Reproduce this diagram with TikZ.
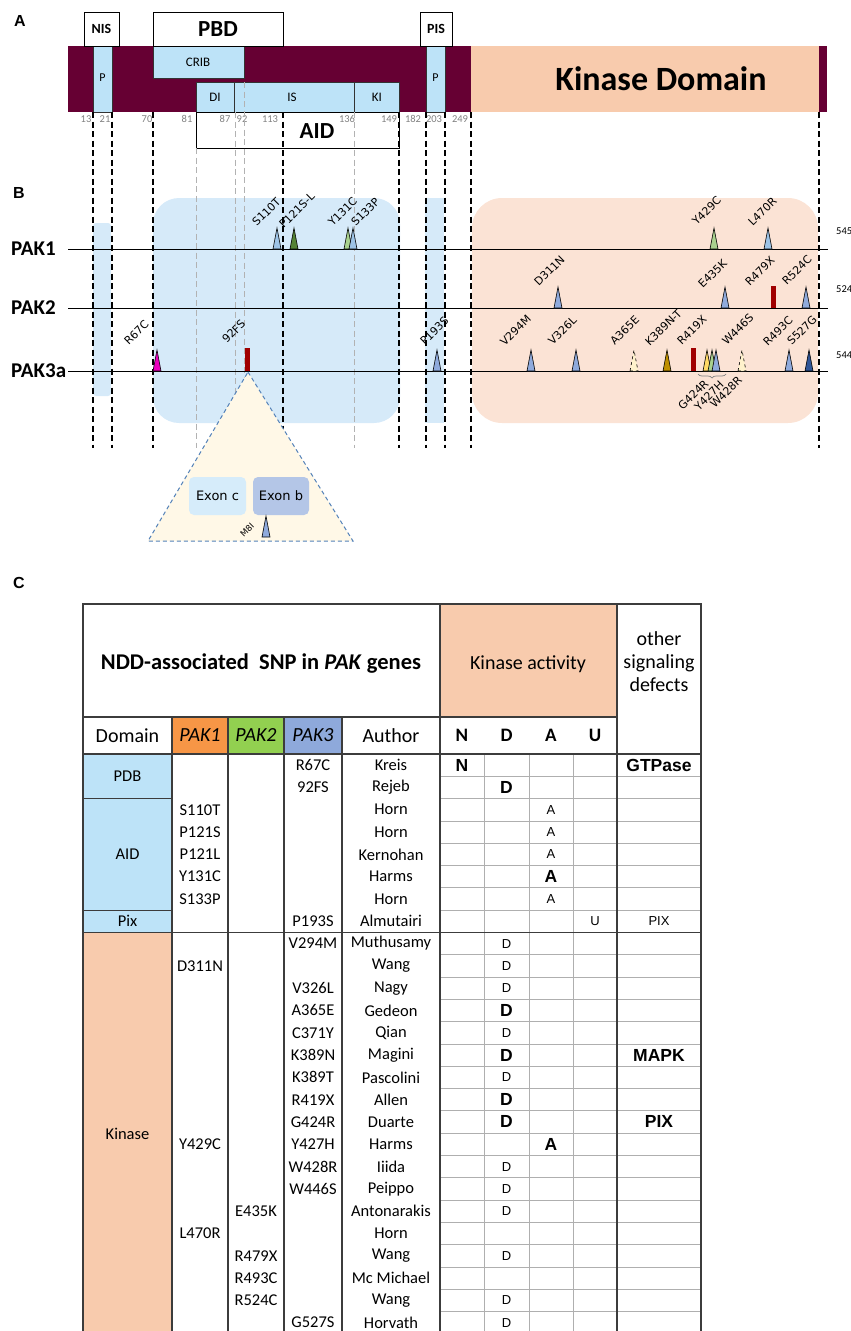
\documentclass[tikz,border=0pt]{standalone}
\usepackage{fontspec}
\setmainfont{Carlito}
\newfontfamily\djv{DejaVu Sans}
\newfontfamily\lib{Liberation Sans}
\usetikzlibrary{decorations.pathreplacing}
\newcommand\fsz[1]{\fontsize{#1}{#1}\selectfont}
\definecolor{maroonbar}{RGB}{102,0,51}
\definecolor{lblue}{RGB}{189,227,248}
\definecolor{peach}{RGB}{248,203,173}
\definecolor{bblue}{RGB}{214,234,249}
\definecolor{bpeach}{RGB}{251,227,213}
\definecolor{mlblue}{RGB}{157,195,230}
\definecolor{mblue}{RGB}{143,170,220}
\definecolor{mdgreen}{RGB}{84,130,53}
\definecolor{mlgreen}{RGB}{169,209,142}
\definecolor{mmag}{RGB}{235,0,190}
\definecolor{mgold}{RGB}{191,144,0}
\definecolor{myellow}{RGB}{255,217,102}
\definecolor{mdblue}{RGB}{47,85,151}
\definecolor{mpale}{RGB}{255,242,204}
\definecolor{mred}{RGB}{160,0,0}
\definecolor{tcream}{RGB}{255,248,231}
\definecolor{tedge}{RGB}{84,130,185}
\definecolor{exc}{RGB}{214,236,250}
\definecolor{exb}{RGB}{180,198,231}
\definecolor{orangeP}{RGB}{247,150,70}
\definecolor{greenP}{RGB}{146,208,80}
\definecolor{blueP}{RGB}{142,169,219}
\definecolor{numgray}{RGB}{128,128,128}
\definecolor{tline}{RGB}{60,60,60}
\definecolor{gline}{RGB}{175,175,175}
\tikzset{
  tri/.style={draw=black,line width=0.6pt},
  mutlab/.style={rotate=45,anchor=south west,inner sep=0.5pt,font=\djv\fsz{11}},
  bdash/.style={draw=black,line width=1.1pt,dash pattern=on 6pt off 3.5pt},
  gdash/.style={draw=gray!60,line width=0.8pt,dash pattern=on 6pt off 3.5pt},
  num/.style={text=numgray,font=\fsz{10.5},inner sep=0pt},
  box/.style={draw=black,line width=0.8pt},
  thinbox/.style={draw=black!80,line width=0.5pt},
  cell/.style={font=\fsz{16.5},inner sep=0pt},
  hcell/.style={font=\fsz{20},inner sep=0pt},
  nb/.style={font=\lib\bfseries\fsz{17.5},inner sep=0pt},
  nn/.style={font=\lib\fsz{13},inner sep=0pt},
  tl/.style={draw=tline,line width=1.1pt},
  gl/.style={draw=gline,line width=0.7pt},
  panel/.style={font=\lib\bfseries\fsz{16},inner sep=0pt}
}
\newcommand\mtri[3]{\draw[tri,fill=#3] (#1-4,#2) -- (#1,#2-21) -- (#1+4,#2) -- cycle;}
\newcommand\mtrid[2]{\draw[tri,dashed,fill=mpale] (#1-4,#2) -- (#1,#2-21) -- (#1+4,#2) -- cycle;}
\newcommand\mbar[3]{\fill[mred] (#1-2.5,#2) rectangle (#1+2.5,#2-#3);}
\newcommand\ry[1]{765.15+22.3*#1}
\begin{document}
\begin{tikzpicture}[x=1pt,y=-1pt]
\useasboundingbox (0,0) rectangle (851,1331);
\clip (0,0) rectangle (851,1331);
% ---------------- Panel A ----------------
\node[panel] (pA) at (20,21) {A};
\fill[maroonbar] (68,46) rectangle (827,112);
\fill[peach] (471,46) rectangle (819,112);
\node[font=\bfseries\fsz{34},inner sep=0pt] (kd) at (661,79) {Kinase Domain};
\draw[thinbox,fill=lblue] (93,46) rectangle (112,112);
\draw[thinbox,fill=lblue] (426,46) rectangle (445,112);
\node[font=\fsz{12},inner sep=0pt] (p1) at (102.5,78) {P};
\node[font=\fsz{12},inner sep=0pt] (p2) at (435.5,78) {P};
\draw[thinbox,fill=lblue] (153,46) rectangle (244,78);
\node[font=\fsz{13},inner sep=0pt] (crib) at (198,62) {CRIB};
\draw[thinbox,fill=lblue] (196,82) rectangle (399,112);
\draw[thinbox] (234,82) -- (234,112);
\draw[thinbox] (354,82) -- (354,112);
\node[font=\fsz{13},inner sep=0pt] (di) at (215,97) {DI};
\node[font=\fsz{13},inner sep=0pt] (is) at (292,97) {IS};
\node[font=\fsz{13},inner sep=0pt] (ki) at (377,97) {KI};
\draw[box,fill=white] (84,12) rectangle (119,46);
\node[font=\bfseries\fsz{14},inner sep=0pt] (nis) at (101.5,29) {NIS};
\draw[box,fill=white] (153,12) rectangle (283,46);
\node[font=\bfseries\fsz{23},inner sep=0pt] (pbd) at (218,29) {PBD};
\draw[box,fill=white] (420,12) rectangle (452,46);
\node[font=\bfseries\fsz{14},inner sep=0pt] (pis) at (436,29) {PIS};
\draw[box] (196,112) rectangle (399,148);
\node[font=\bfseries\fsz{23},inner sep=0pt] (aid) at (317,131) {AID};
\foreach \x/\t in {86/13,105/21,147/70,187/81,225/87,242/92,270/113,347/136,389/149,413/182,434/203,460/249}
  \node[num] (n\t) at (\x,119) {\t};
% ---------------- Panel B ----------------
\node[panel] (pB) at (19,193) {B};
\fill[bblue,rounded corners=26pt] (153,198) rectangle (400,423);
\fill[bblue,rounded corners=3pt] (93,223) rectangle (111,396);
\fill[bblue] (425,198) rectangle (444,423);
\fill[bpeach,rounded corners=30pt] (472,198) rectangle (818,423);
% dashed guide lines
\foreach \x in {93,112,153,283,399,426,445,471,819}
  \draw[bdash] (\x,112) -- (\x,448);
\draw[gdash] (196,148) -- (196,448);
\draw[gdash] (235,112) -- (235,448);
\draw[gdash] (244,82) -- (244,448);
\draw[gdash] (354,112) -- (354,448);
% PAK lines
\draw[line width=0.9pt] (68,249) -- (828,249);
\draw[line width=0.9pt] (68,308) -- (828,308);
\draw[line width=0.9pt] (68,371) -- (828,371);
\node[font=\bfseries\fsz{21},anchor=west,inner sep=0pt] (pak1) at (11,249) {PAK1};
\node[font=\bfseries\fsz{21},anchor=west,inner sep=0pt] (pak2) at (11,308) {PAK2};
\node[font=\bfseries\fsz{21},anchor=west,inner sep=0pt] (pak3) at (11,371) {PAK3a};
\node[font=\fsz{10.5},anchor=west,inner sep=0pt] (l545) at (836,231) {545};
\node[font=\fsz{10.5},anchor=west,inner sep=0pt] (l524) at (836,289) {524};
\node[font=\fsz{10.5},anchor=west,inner sep=0pt] (l544) at (836,355) {544};
% exon inset
\draw[draw=tedge,line width=1pt,dash pattern=on 4pt off 3pt,fill=tcream] (248,372) -- (353,541) -- (148,541) -- cycle;
\fill[exc,rounded corners=5pt] (189,477) rectangle (246,515);
\fill[exb,rounded corners=5pt] (253,477) rectangle (309,515);
\node[font=\djv\fsz{13},inner sep=0pt] (exc) at (217.5,496) {Exon c};
\node[font=\djv\fsz{13},inner sep=0pt] (exb) at (281,496) {Exon b};
\mtri{266}{537}{mblue}
\node[mutlab,font=\djv\fsz{8.5}] (m8i) at (244,539) {M8I};
% PAK1 mutations
\mtri{277}{249}{mlblue}
\mtri{294}{249}{mdgreen}
\mtri{348}{249}{mlgreen}
\mtri{353}{249}{mlblue}
\mtri{714}{249}{mlgreen}
\mtri{768}{249}{mlblue}
\node[mutlab] (s110t) at (257,228) {S110T};
\node[mutlab] (p121) at (284,230) {P121S-L};
\node[mutlab] (y131c) at (333,228) {Y131C};
\node[mutlab] (s133p) at (356,228) {S133P};
\node[mutlab] (y429c) at (697,227) {Y429C};
\node[mutlab] (l470r) at (753,228) {L470R};
% PAK2 mutations
\mtri{558}{308}{mblue}
\mtri{725}{308}{mblue}
\mbar{773}{308}{22}
\mtri{806}{308}{mblue}
\node[mutlab] (d311n) at (539,288) {D311N};
\node[mutlab] (e435k) at (703,290) {E435K};
\node[mutlab] (r479x) at (750,288) {R479X};
\node[mutlab] (r524c) at (787,287) {R524C};
% PAK3a mutations
\mtri{157}{371}{mmag}
\mbar{247}{371}{23}
\mtri{437}{371}{mblue}
\mtri{531}{371}{mblue}
\mtri{576}{371}{mblue}
\mtrid{634}{371}
\mtri{667}{371}{mgold}
\mbar{693}{371}{23}
\mtri{707}{371}{myellow}
\mtri{712}{371}{mlgreen}
\mtri{716}{371}{mblue}
\mtrid{742}{371}
\mtri{789}{371}{mblue}
\mtri{809}{371}{mdblue}
\node[mutlab] (r67c) at (129,347) {R67C};
\node[mutlab] (fs92) at (227,345) {92FS};
\node[mutlab] (p193s) at (425,347) {P193S};
\node[mutlab] (v294m) at (505,348) {V294M};
\node[mutlab] (v326l) at (553,347) {V326L};
\node[mutlab] (a365e) at (615,347) {A365E};
\node[mutlab] (k389) at (650,348) {K389N-T};
\node[mutlab] (r419x) at (682,347) {R419X};
\node[mutlab] (w446s) at (727,347) {W446S};
\node[mutlab] (r493c) at (768,348) {R493C};
\node[mutlab] (s527g) at (792,347) {S527G};
\draw[gray,line width=0.7pt,decorate,decoration={brace,amplitude=4pt,mirror}] (698,374) -- (726,374);
\node[mutlab] (g424r) at (683,412) {G424R};
\node[mutlab] (y427h) at (699,412) {Y427H};
\node[mutlab] (w428r) at (715,410) {W428R};
% ---------------- Panel C ----------------
\node[panel] (pC) at (19,583) {C};
\fill[peach] (440,604) rectangle (617,717);
\fill[orangeP] (172,717) rectangle (228,754);
\fill[greenP] (228,717) rectangle (284,754);
\fill[blueP] (284,717) rectangle (342,754);
\fill[lblue] (83,754) rectangle (172,932.4);
\fill[peach] (83,932.4) rectangle (172,1331);
% gray grid
\foreach \i in {1,...,7,9,10,...,25}
  \draw[gl] (440,754+22.3*\i) -- (701,754+22.3*\i);
\foreach \x in {484,529,573}
  \draw[gl] (\x,754) -- (\x,1331);
% dark lines
\draw[tl] (83,1331) -- (83,604) -- (701,604) -- (701,1331);
\draw[tl] (83,717) -- (617,717);
\draw[tl] (83,754) -- (701,754);
\draw[tl] (440,604) -- (440,1331);
\draw[tl] (617,604) -- (617,1331);
\foreach \x in {172,228,284,342}
  \draw[tl] (\x,717) -- (\x,1331);
\draw[tl] (83,798.6) -- (172,798.6);
\draw[tl] (83,910.1) -- (172,910.1);
\draw[tl] (83,932.4) -- (701,932.4);
% header text
\node[font=\bfseries\fsz{22.5},inner sep=0pt] (title) at (261,664) {NDD-associated\ \ SNP in \textit{PAK} genes};
\node[hcell] (kact) at (528,664) {Kinase activity};
\node[font=\fsz{20},align=center,inner sep=0pt,text depth=0pt] (other) at (659,662) {other\\[3pt]signaling\\[3pt]defects};
\node[hcell] (hdom) at (127.5,735.5) {Domain};
\node[hcell] (hp1) at (200,735.5) {\textit{PAK1}};
\node[hcell] (hp2) at (256,735.5) {\textit{PAK2}};
\node[hcell] (hp3) at (313,735.5) {\textit{PAK3}};
\node[hcell] (hau) at (391,735.5) {Author};
\node[font=\bfseries\fsz{19},inner sep=0pt] (hN) at (462,735.5) {N};
\node[font=\bfseries\fsz{19},inner sep=0pt] (hD) at (506.5,735.5) {D};
\node[font=\bfseries\fsz{19},inner sep=0pt] (hA) at (551,735.5) {A};
\node[font=\bfseries\fsz{19},inner sep=0pt] (hU) at (595,735.5) {U};
% domain column
\node[cell] (dPDB) at (127.5,776.3) {PDB};
\node[cell] (dAID) at (127.5,854.4) {AID};
\node[cell] (dPix) at (127.5,921.2) {Pix};
\node[cell] (dKin) at (127.5,1134) {Kinase};
% authors
\foreach \t [count=\i from 0] in {Kreis,Rejeb,Horn,Horn,Kernohan,Harms,Horn,Almutairi,Muthusamy,Wang,Nagy,Gedeon,Qian,Magini,Pascolini,Allen,Duarte,Harms,Iiida,Peippo,Antonarakis,Horn,Wang,Mc Michael,Wang,Horvath}
  \node[cell] (au\i) at (391,\ry{\i}) {\t};
\foreach \i/\t in {2/S110T,3/P121S,4/P121L,5/Y131C,6/S133P,9/D311N,17/Y429C,21/L470R}
  \node[cell] (pa\i) at (200,\ry{\i}) {\t};
\foreach \i/\t in {20/E435K,22/R479X,23/R493C,24/R524C}
  \node[cell] (pb\i) at (256,\ry{\i}) {\t};
\foreach \i/\t in {0/R67C,1/92FS,7/P193S,8/V294M,10/V326L,11/A365E,12/C371Y,13/K389N,14/K389T,15/R419X,16/G424R,17/Y427H,18/W428R,19/W446S,25/G527S}
  \node[cell] (pc\i) at (313,\ry{\i}) {\t};
% activity
\node[nb] (aN0) at (462,\ry{0}) {N};
\foreach \i in {1,11,13,15,16}
  \node[nb] (aDb\i) at (506.5,\ry{\i}) {D};
\foreach \i in {8,9,10,12,14,18,19,20,22,24,25}
  \node[nn] (aDn\i) at (506.5,\ry{\i}) {D};
\foreach \i in {2,3,4,6}
  \node[nn] (aAn\i) at (551,\ry{\i}) {A};
\foreach \i in {5,17}
  \node[nb] (aAb\i) at (551,\ry{\i}) {A};
\node[nn] (aU7) at (595,\ry{7}) {U};
\node[nb] (o0) at (659,\ry{0}) {GTPase};
\node[nn] (o7) at (659,\ry{7}) {PIX};
\node[nb] (o13) at (659,\ry{13}) {MAPK};
\node[nb] (o16) at (659,\ry{16}) {PIX};
\end{tikzpicture}
\end{document}
